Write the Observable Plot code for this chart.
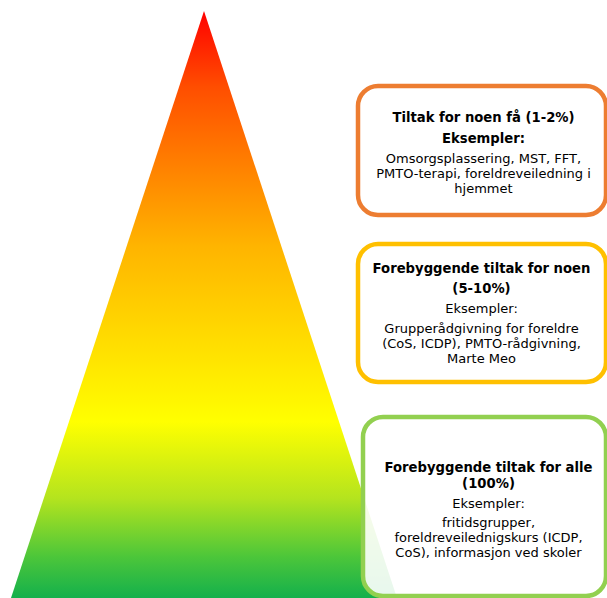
<!DOCTYPE html>
<html>
<head>
<meta charset="utf-8">
<script src="https://cdn.jsdelivr.net/npm/d3@7"></script>
<script src="https://cdn.jsdelivr.net/npm/@observablehq/plot@0.6"></script>
<style>
  html, body { margin: 0; padding: 0; background: #fff; }
</style>
</head>
<body>
<div id="chart"></div>
<script>
// ---- data ----
const titles = [
  ["Tiltak for noen få (1-2%)"],
  ["Forebyggende tiltak for noen", "(5-10%)"],
  ["Forebyggende tiltak for alle", "(100%)"]
];
const exampleLabel = "Eksempler:";
const examples = [
  ["Omsorgsplassering, MST, FFT,", "PMTO-terapi, foreldreveiledning i", "hjemmet"],
  ["Grupperådgivning for foreldre", "(CoS, ICDP), PMTO-rådgivning,", "Marte Meo"],
  ["fritidsgrupper,", "foreldreveilednigskurs (ICDP,", "CoS), informasjon ved skoler"]
];
const boxColors = ["#ED7D31", "#FFC000", "#92D050"];

// ---- layout (diagram coordinates) ----
const W = 607, H = 598;
const pyramid = [
  {y: 11, x1: 204, x2: 204},
  {y: 598, x1: 11, x2: 397}
];
const boxFrames = [
  {x1: 358, x2: 606, y1: 86, y2: 215},
  {x1: 358, x2: 606, y1: 244, y2: 382},
  {x1: 363, x2: 606, y1: 417, y2: 596}
];
const textCenters = [483, 481, 488];
const titleY = [[117], [268, 288], [467, 483]];
const labelY = [138, 308, 503];
const exampleY = [[158, 173, 188], [328, 343, 358], [522, 537, 552]];
const labelBold = [true, false, false];
const gradientStops = [
  [0, "#ff0000"], [0.13, "#ff4e00"], [0.4, "#ffb400"], [0.7, "#ffff00"],
  [0.83, "#b4e41e"], [0.93, "#4cc63a"], [1, "#14b04c"]
];

// ---- build text rows ----
const lines = [];
titles.forEach((t, i) => t.forEach((s, j) => lines.push({x: textCenters[i], y: titleY[i][j], text: s, bold: true})));
labelY.forEach((y, i) => lines.push({x: textCenters[i], y, text: exampleLabel, bold: labelBold[i]}));
examples.forEach((ex, i) => ex.forEach((s, j) => lines.push({x: textCenters[i], y: exampleY[i][j], text: s, bold: false})));
const boxes = boxFrames.map((b, i) => ({...b, color: boxColors[i]}));

const font = "DejaVu Sans, Verdana, sans-serif";
const chart = Plot.plot({
  width: W, height: H,
  margin: 0,
  x: {domain: [0, W], range: [0, W], axis: null},
  y: {domain: [0, H], range: [0, H], axis: null},
  style: {fontFamily: font, background: "white"},
  marks: [
    Plot.areaX(pyramid, {y: "y", x1: "x1", x2: "x2", fill: "url(#pyrgrad)", curve: "linear"}),
    Plot.rect(boxes, {x1: "x1", x2: "x2", y1: "y1", y2: "y2", rx: 20, ry: 20,
      stroke: "color", strokeWidth: 4.5, fill: "white", fillOpacity: 0.9}),
    Plot.text(lines.filter(d => d.bold), {x: "x", y: "y", text: "text", fontSize: 13.2,
      fontWeight: "bold", fill: "#000", textAnchor: "middle", lineAnchor: "middle"}),
    Plot.text(lines.filter(d => !d.bold), {x: "x", y: "y", text: "text", fontSize: 13,
      fill: "#000", textAnchor: "middle", lineAnchor: "middle"})
  ],
  color: {type: "identity"}
});

const defs = d3.select(chart).insert("defs", ":first-child");
const lg = defs.append("linearGradient").attr("id", "pyrgrad")
  .attr("x1", 0).attr("y1", 0).attr("x2", 0).attr("y2", 1);
gradientStops.forEach(([o, c]) => lg.append("stop").attr("offset", o).attr("stop-color", c));

document.getElementById("chart").appendChild(chart);
</script>
</body>
</html>
